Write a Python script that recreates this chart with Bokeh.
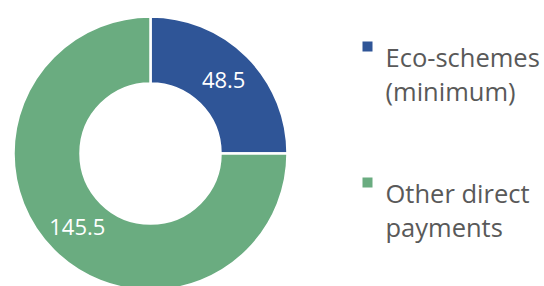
import math
from bokeh.plotting import figure
from bokeh.models import Range1d
from bokeh.core.properties import value
from bokeh.embed import file_html
from bokeh.resources import INLINE

# ---- data ----
categories = ["Eco-schemes\n(minimum)", "Other direct\npayments"]
values = [48.5, 145.5]
colors = ["#2f5597", "#6aac80"]

# ---- layout (pixels, image coords converted to data with y up) ----
W, H = 544, 286
OFF = 0
IMG_H = 286
def Y(img_y):
    return IMG_H - img_y

cx, cy = 150, Y(153)
r_in, r_out = 70, 137

p = figure(width=W, height=H, output_backend="svg", toolbar_location=None,
           x_range=Range1d(OFF, OFF + W), y_range=Range1d(Y(OFF + H), Y(OFF)),
           min_border=0)
p.axis.visible = False
p.grid.visible = False
p.outline_line_color = None
p.background_fill_color = "white"

total = sum(values)
start = math.pi / 2
starts, ends, mids = [], [], []
a = start
for v in values:
    sweep = 2 * math.pi * v / total
    starts.append(a)
    ends.append(a - sweep)
    mids.append(a - sweep / 2)
    a -= sweep

p.annular_wedge(x=[cx] * len(values), y=[cy] * len(values),
                inner_radius=r_in, outer_radius=r_out,
                start_angle=ends, end_angle=starts, direction="anticlock",
                fill_color=colors, line_color="white", line_width=2.5)

r_mid = (r_in + r_out) / 2
lx = [cx + r_mid * math.cos(m) for m in mids]
ly = [cy + r_mid * math.sin(m) for m in mids]
p.text(x=lx, y=ly, text=[("%g" % v) for v in values],
       text_font=value("Open Sans"), text_font_size="22px",
       text_color="white", text_align="center", text_baseline="middle")

# ---- legend ----
leg_marker_x = 367
leg_text_x = 385
leg_first_baseline = 56
leg_entry_gap = 136
leg_line_gap = 34
for i, (lab, col) in enumerate(zip(categories, colors)):
    base = leg_first_baseline + i * leg_entry_gap
    p.scatter(x=[leg_marker_x], y=[Y(base - 10)], marker="square", size=10,
              fill_color=col, line_color=None)
    for j, line in enumerate(lab.split("\n")):
        p.text(x=[leg_text_x], y=[Y(base + j * leg_line_gap)], text=[line],
               text_font=value("Open Sans"), text_font_size="25.5px",
               text_color="#595959", text_align="left",
               text_baseline="alphabetic")

open("out.html", "w").write(file_html(p, INLINE))
